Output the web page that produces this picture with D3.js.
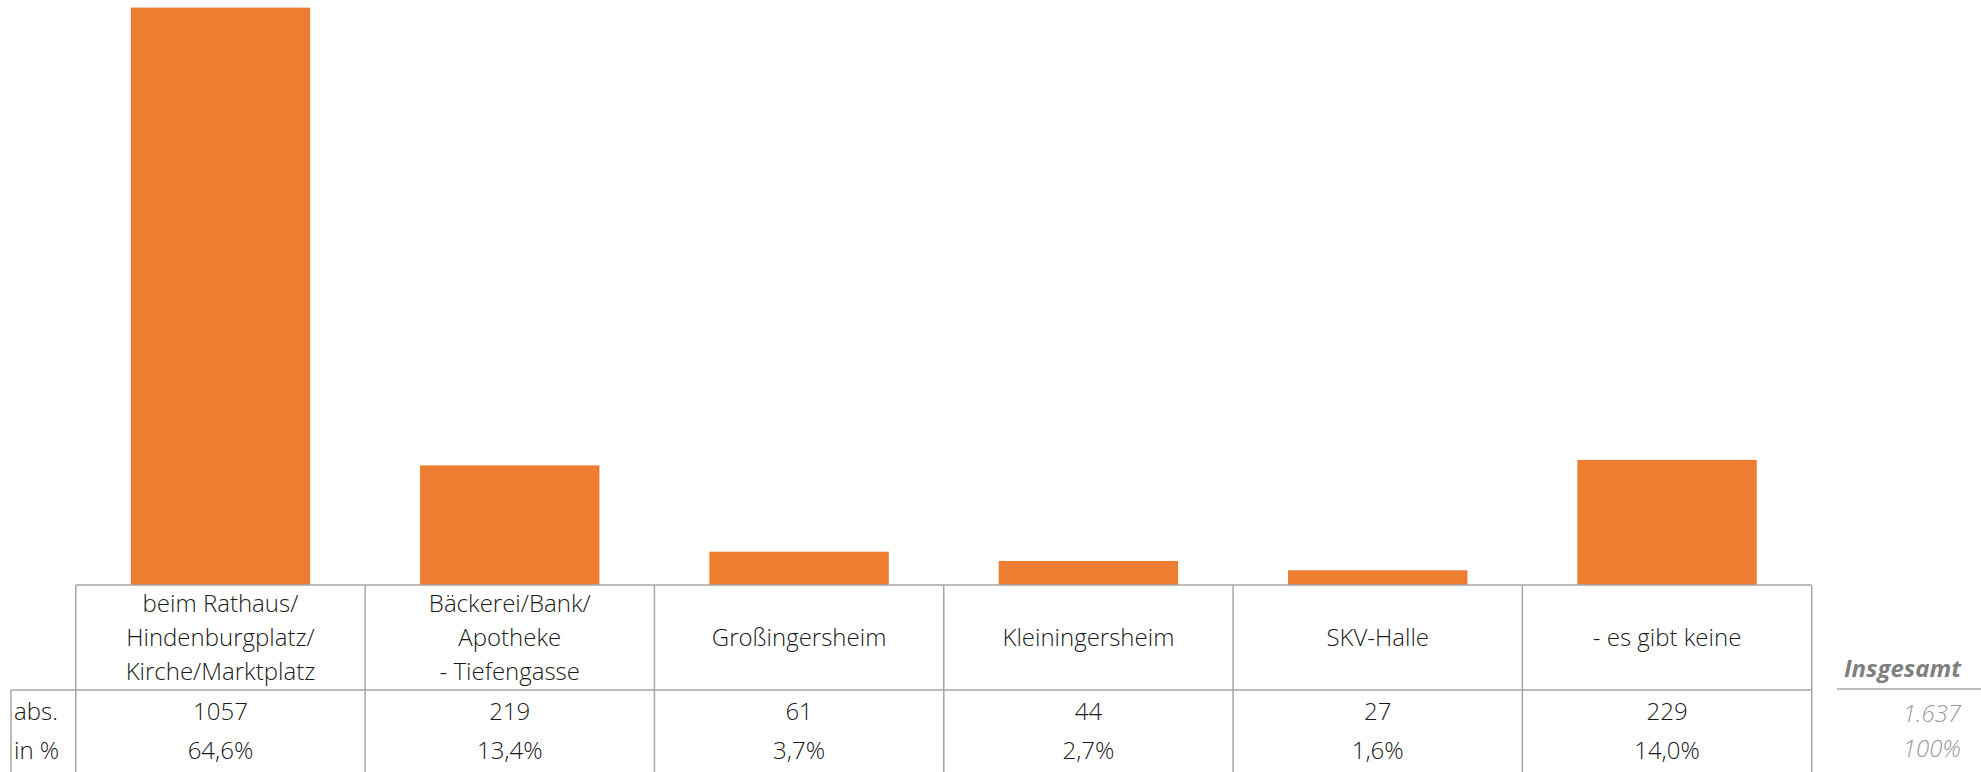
<!DOCTYPE html>
<html>
<head>
    <meta charset="utf-8">
    <title>Treffpunkte</title>
    <style>
        body {
            margin: 0;
            background: #ffffff;
        }
        svg {
            display: block;
            font-family: "Open Sans", sans-serif;
        }
        .grid line {
            stroke: #a6a6a6;
            stroke-width: 1.5px;
        }
        .cell {
            font-size: 24px;
            font-weight: 300;
            fill: #1a1a1a;
            text-anchor: middle;
        }
    </style>
    <script src="https://cdn.jsdelivr.net/npm/d3@7"></script>
</head>
<body>
<script>
    // data
    const categories = [
        "beim Rathaus/\nHindenburgplatz/\nKirche/Marktplatz",
        "Bäckerei/Bank/\nApotheke\n- Tiefengasse",
        "Großingersheim",
        "Kleiningersheim",
        "SKV-Halle",
        "- es gibt keine"
    ];
    const absValues = [1057, 219, 61, 44, 27, 229];
    const pctLabels = ["64,6%", "13,4%", "3,7%", "2,7%", "1,6%", "14,0%"];
    const rowLabels = ["abs.", "in %"];
    const totalTitle = "Insgesamt";
    const totalLabels = ["1.637", "100%"];

    const width = 1981,
        height = 772;

    const tableLeft = 75.8,
        tableRight = 1811.7,
        baseY = 585,
        headBottom = 690,
        labelLeft = 11;

    let svg = d3.select('body').append('svg')
        .attr('width', width)
        .attr('height', height);

    let x = d3.scaleBand()
        .domain(categories)
        .range([tableLeft, tableRight])
        .paddingInner(0.38)
        .paddingOuter(0.19);

    // band edges for the table columns
    let step = x.step();
    let colEdge = i => tableLeft + i * step;

    let y = d3.scaleLinear()
        .domain([0, 1057])
        .range([baseY, 7.6]);

    // bars
    svg.append('g')
        .selectAll('rect')
        .data(absValues)
        .enter().append('rect')
        .attr('x', (d, i) => x(categories[i]))
        .attr('y', d => y(d))
        .attr('width', x.bandwidth())
        .attr('height', d => baseY - y(d))
        .attr('fill', '#ed7d31');

    // table lines
    let grid = svg.append('g').attr('class', 'grid');
    grid.append('line')
        .attr('x1', tableLeft).attr('x2', tableRight)
        .attr('y1', baseY).attr('y2', baseY);
    grid.append('line')
        .attr('x1', labelLeft).attr('x2', tableRight)
        .attr('y1', headBottom).attr('y2', headBottom);
    grid.append('line')
        .attr('x1', labelLeft).attr('x2', labelLeft)
        .attr('y1', headBottom).attr('y2', height);
    grid.selectAll('.col')
        .data(d3.range(categories.length + 1))
        .enter().append('line')
        .attr('class', 'col')
        .attr('x1', d => colEdge(d)).attr('x2', d => colEdge(d))
        .attr('y1', baseY).attr('y2', height);

    // header labels
    const lineH = 34,
        midBase = 646;
    let heads = svg.append('g')
        .selectAll('text')
        .data(categories)
        .enter().append('text')
        .attr('class', 'cell')
        .attr('x', d => x(d) + x.bandwidth() / 2);
    heads.each(function (d) {
        let lines = d.split('\n');
        let off = (lines.length - 1) / 2;
        d3.select(this).selectAll('tspan')
            .data(lines)
            .enter().append('tspan')
            .attr('x', x(d) + x.bandwidth() / 2)
            .attr('y', (l, j) => midBase + (j - off) * lineH)
            .text(l => l);
    });

    // value rows
    const rowY = [720, 759];
    svg.append('g')
        .selectAll('text')
        .data(absValues)
        .enter().append('text')
        .attr('class', 'cell')
        .attr('x', (d, i) => x(categories[i]) + x.bandwidth() / 2)
        .attr('y', rowY[0])
        .text(d => d);
    svg.append('g')
        .selectAll('text')
        .data(pctLabels)
        .enter().append('text')
        .attr('class', 'cell')
        .attr('x', (d, i) => x(categories[i]) + x.bandwidth() / 2)
        .attr('y', rowY[1])
        .text(d => d);

    svg.append('g')
        .selectAll('text')
        .data(rowLabels)
        .enter().append('text')
        .attr('class', 'cell')
        .style('text-anchor', 'start')
        .attr('x', labelLeft + 3)
        .attr('y', (d, i) => rowY[i])
        .text(d => d);

    // total block on the right
    svg.append('text')
        .attr('x', 1961)
        .attr('y', 677)
        .style('text-anchor', 'end')
        .style('font-size', '24px')
        .style('font-weight', 700)
        .style('font-style', 'italic')
        .style('fill', '#7f7f7f')
        .text(totalTitle);
    svg.append('line')
        .attr('x1', 1837).attr('x2', width)
        .attr('y1', 689).attr('y2', 689)
        .style('stroke', '#a6a6a6')
        .style('stroke-width', 1.5);
    svg.append('g')
        .selectAll('text')
        .data(totalLabels)
        .enter().append('text')
        .attr('x', 1961)
        .attr('y', (d, i) => [722, 757][i])
        .style('text-anchor', 'end')
        .style('font-size', '24px')
        .style('font-weight', 300)
        .style('font-style', 'italic')
        .style('fill', '#9a9a9a')
        .text(d => d);
</script>
</body>
</html>
